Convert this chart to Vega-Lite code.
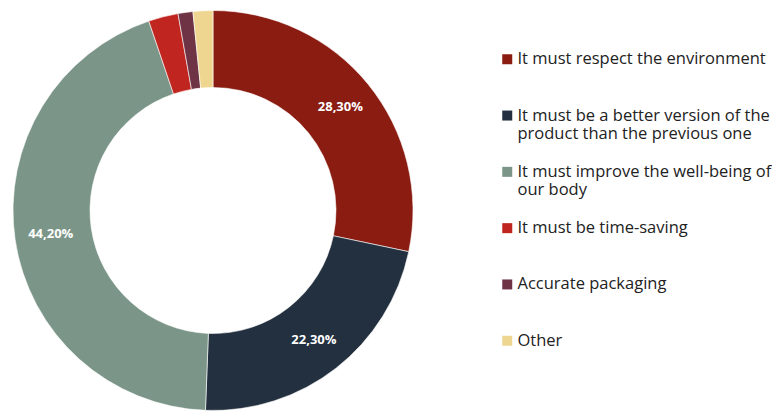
{
  "$schema": "https://vega.github.io/schema/vega-lite/v6.json",
  "width": 426,
  "height": 421,
  "padding": 0,
  "autosize": {"type": "pad"},
  "background": "white",
  "config": {"view": {"stroke": null}, "font": "Open Sans"},
  "data": {
    "values": [
      {"answer": "It must respect the environment", "share": 28.3, "rank": 1, "label": "28,30%"},
      {"answer": "It must be a better version of the product than the previous one", "share": 22.3, "rank": 2, "label": "22,30%"},
      {"answer": "It must improve the well-being of our body", "share": 44.2, "rank": 3, "label": "44,20%"},
      {"answer": "It must be time-saving", "share": 2.4, "rank": 4, "label": ""},
      {"answer": "Accurate packaging", "share": 1.2, "rank": 5, "label": ""},
      {"answer": "Other", "share": 1.6, "rank": 6, "label": ""}
    ]
  },
  "encoding": {
    "theta": {"field": "share", "type": "quantitative", "stack": true},
    "order": {"field": "rank", "type": "quantitative"}
  },
  "layer": [
    {
      "mark": {"type": "arc", "outerRadius": 200, "innerRadius": 123, "stroke": "white", "strokeWidth": 0.6},
      "encoding": {
        "color": {
          "field": "answer",
          "type": "nominal",
          "sort": null,
          "scale": {
            "domain": [
              "It must respect the environment",
              "It must be a better version of the product than the previous one",
              "It must improve the well-being of our body",
              "It must be time-saving",
              "Accurate packaging",
              "Other"
            ],
            "range": ["#8a1c12", "#23303f", "#7b9588", "#c0261f", "#6e3445", "#efd690"]
          },
          "legend": {
            "title": null,
            "orient": "none",
            "legendX": 499,
            "legendY": 51,
            "symbolType": "square",
            "symbolSize": 100,
            "symbolStrokeWidth": 0,
            "labelFontSize": 16.5,
            "labelColor": "#222222",
            "labelFont": "Open Sans",
            "labelLimit": 300,
            "labelBaseline": "middle",
            "labelOffset": 2,
            "gridAlign": "all",
            "rowPadding": 20.3,
            "labelExpr": "datum.label == 'It must be a better version of the product than the previous one' ? ['It must be a better version of the', 'product than the previous one'] : datum.label == 'It must improve the well-being of our body' ? ['It must improve the well-being of', 'our body'] : datum.label",
            "labelLineHeight": 20
          }
        }
      }
    },
    {
      "mark": {"type": "text", "radius": 164, "color": "white", "fontSize": 13, "fontWeight": "bold", "font": "Open Sans"},
      "encoding": {"text": {"field": "label"}}
    }
  ]
}
